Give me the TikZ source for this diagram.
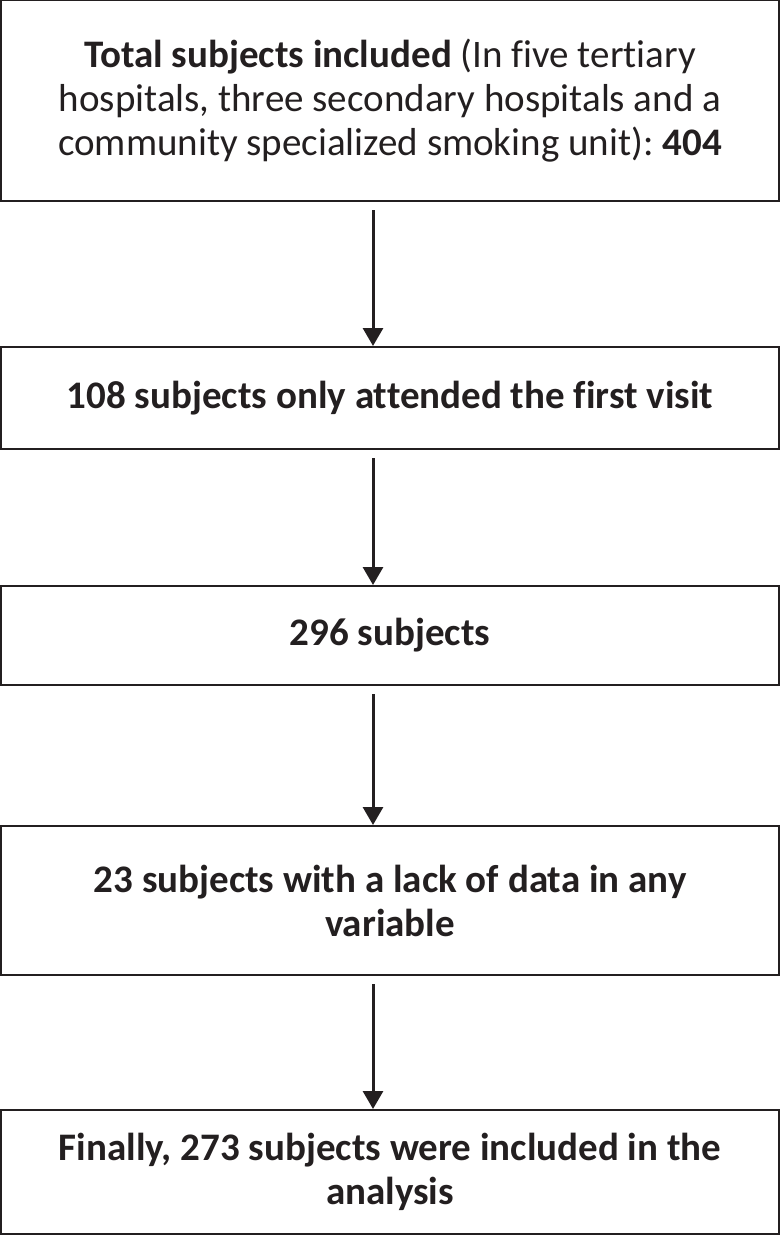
\documentclass[tikz,border=0pt]{standalone}
\usepackage{fontspec}
\setmainfont{Carlito}[Ligatures=NoCommon]
\usetikzlibrary{arrows.meta}
\definecolor{ink}{HTML}{231F20}
\frenchspacing
\begin{document}
\begin{tikzpicture}[
   x=0.5pt,y=-0.5pt,
   font=\fontsize{19.5}{22}\selectfont,
   stage/.style={draw=ink,line width=1pt,text=ink,minimum width=389pt,align=center,inner sep=0pt},
   to/.style={-{Triangle[width=10pt,length=9pt]},draw=ink,line width=1.5pt,shorten <=4pt}]
\useasboundingbox (0,0) rectangle (780,1236);
\node[stage,minimum height=100.5pt] (total) at (390,100.5) {\textbf{Total subjects included} (In five tertiary\\hospitals, three secondary hospitals and a\\community specialized smoking unit): \textbf{404}};
\node[stage,minimum height=51pt] (first) at (390,398) {\textbf{108 subjects only attended the first visit}};
\node[stage,minimum height=49.5pt] (subj) at (390,635.5) {\textbf{296 subjects}};
\node[stage,minimum height=74.5pt] (lack) at (390,900.5) {\textbf{23 subjects with a lack of data in any}\\\textbf{variable}};
\node[stage,minimum height=62pt] (final) at (390,1172) {\textbf{Finally, 273 subjects were included in the}\\\textbf{analysis}};
\draw[to] (total.south -| 373,0) -- (first.north -| 373,0);
\draw[to] (first.south -| 373,0) -- (subj.north -| 373,0);
\draw[to] (subj.south -| 373,0) -- (lack.north -| 373,0);
\draw[to] (lack.south -| 373,0) -- (final.north -| 373,0);
\end{tikzpicture}
\end{document}
